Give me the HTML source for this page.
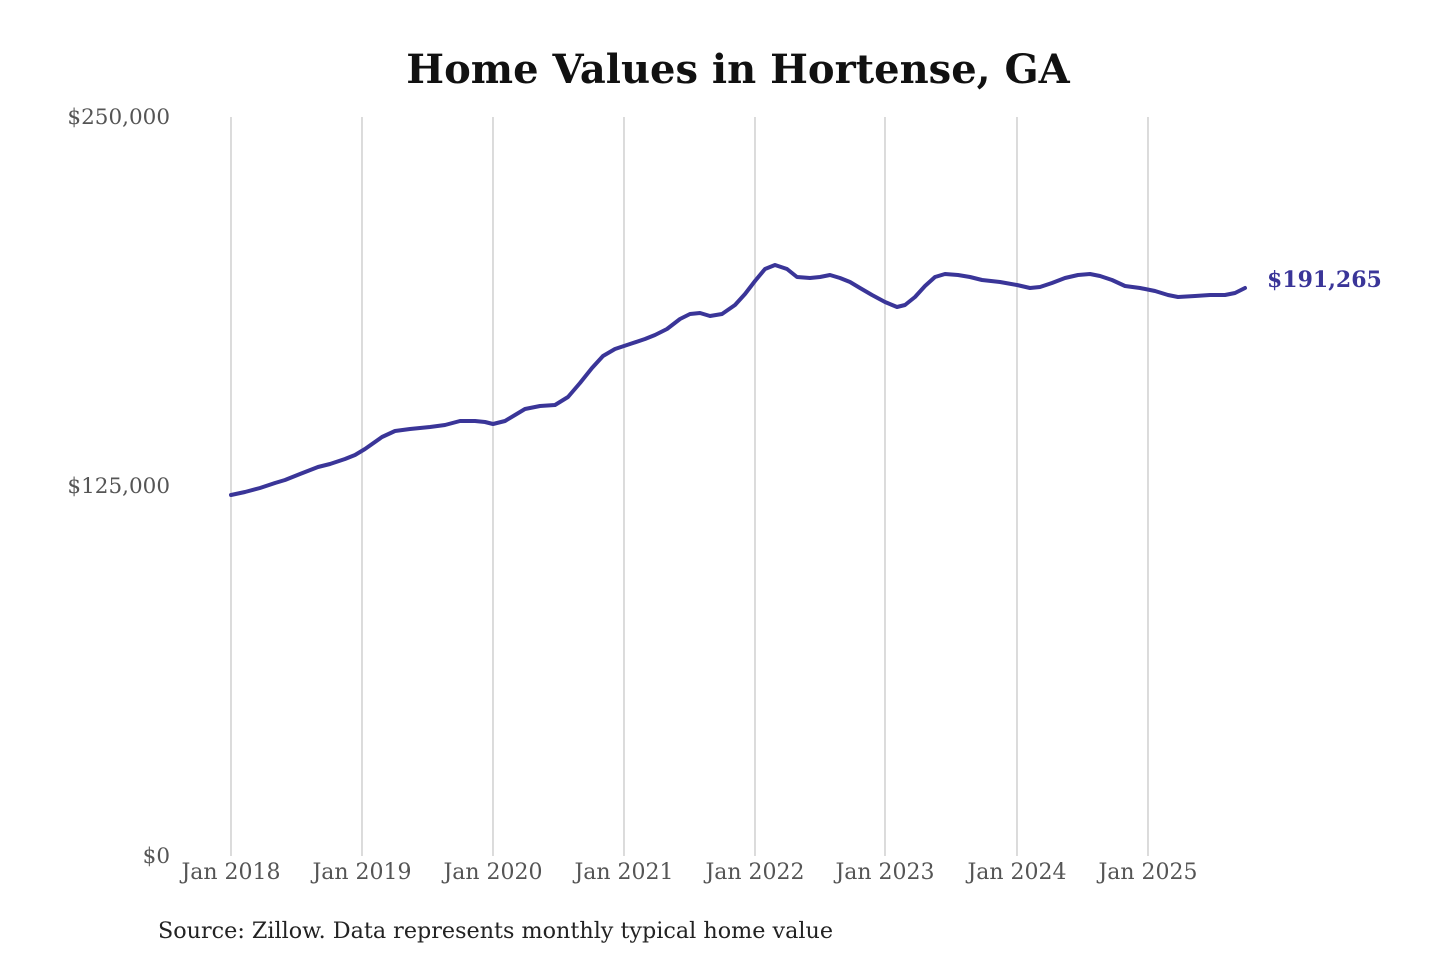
<!DOCTYPE html>
<html><head><style>
html,body{margin:0;padding:0;background:#fff;}
body{width:1440px;height:960px;overflow:hidden;}
</style></head><body>
<svg width="1440" height="960" xmlns="http://www.w3.org/2000/svg" font-family="'DejaVu Serif','Liberation Serif',serif">
<text x="738" y="83" text-anchor="middle" font-size="40" font-weight="bold" fill="#111">Home Values in Hortense, GA</text>
<g stroke="#c8c8c8" stroke-width="1.3">
<line x1="231" y1="117" x2="231" y2="856"/><line x1="362" y1="117" x2="362" y2="856"/>
<line x1="493" y1="117" x2="493" y2="856"/><line x1="624" y1="117" x2="624" y2="856"/>
<line x1="755" y1="117" x2="755" y2="856"/><line x1="885" y1="117" x2="885" y2="856"/>
<line x1="1017" y1="117" x2="1017" y2="856"/><line x1="1148" y1="117" x2="1148" y2="856"/>
</g>
<g font-size="21.5" fill="#555" text-anchor="end">
<text x="170" y="124">$250,000</text>
<text x="170" y="493">$125,000</text>
<text x="170" y="863">$0</text>
</g>
<g font-size="22" fill="#555" text-anchor="middle">
<text x="231" y="879">Jan 2018</text><text x="362" y="879">Jan 2019</text>
<text x="493" y="879">Jan 2020</text><text x="624" y="879">Jan 2021</text>
<text x="755" y="879">Jan 2022</text><text x="885" y="879">Jan 2023</text>
<text x="1017" y="879">Jan 2024</text><text x="1148" y="879">Jan 2025</text>
</g>
<polyline fill="none" stroke="#3a3598" stroke-width="4" stroke-linejoin="round" stroke-linecap="round" points="231,495 245,492 260,488 275,483 285,480 300,474 318,467 330,464 345,459 355,455 365,449 382,437 395,431 410,429 430,427 445,425 460,421 475,421 485,422 493,424 505,421 515,415 525,409 540,406 555,405 568,397 580,383 592,368 603,356 615,349 630,344 645,339 655,335 667,329 680,319 690,314 700,313 710,316 722,314 735,305 745,294 755,281 765,269 775,265 787,269 797,277 810,278 820,277 830,275 840,278 850,282 860,288 872,295 885,302 897,307 905,305 915,297 925,286 935,277 945,274 958,275 970,277 982,280 1000,282 1017,285 1030,288 1040,287 1052,283 1065,278 1078,275 1090,274 1100,276 1112,280 1125,286 1140,288 1155,291 1168,295 1178,297 1195,296 1210,295 1225,295 1235,293 1245,288"/>
<text x="1267" y="287" font-size="22" font-weight="bold" fill="#3a3598">$191,265</text>
<text x="158" y="938" font-size="22" fill="#222" textLength="675" lengthAdjust="spacingAndGlyphs">Source: Zillow. Data represents monthly typical home value</text>
</svg>
</body></html>
